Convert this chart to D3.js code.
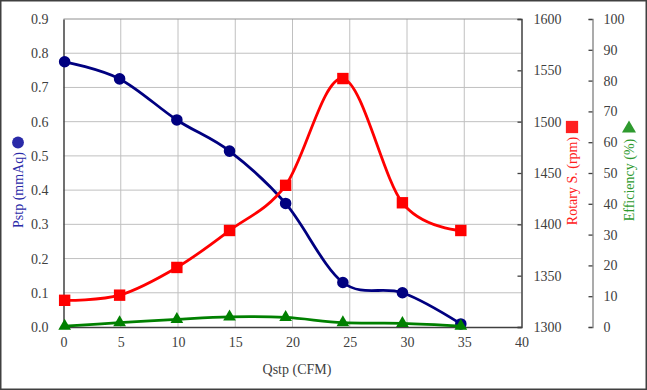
<!DOCTYPE html>
<html><head><meta charset="utf-8">
<script src="https://cdn.jsdelivr.net/npm/d3@7"></script>
<style>body{margin:0;background:#fff}svg{display:block}</style>
</head><body>
<svg id="c" width="647" height="390"></svg>
<script>
const qstp = [0.1, 4.9, 9.9, 14.5, 19.4, 24.4, 29.6, 34.7];
const pstp = [0.775, 0.725, 0.605, 0.514, 0.361, 0.130, 0.100, 0.009];
const rotary = [1326, 1331, 1358, 1394, 1438, 1542, 1421, 1394];
const efficiency = [0.3, 1.4, 2.5, 3.3, 3.1, 1.4, 1.2, 0.3];
const xTicks = [0,5,10,15,20,25,30,35,40];
const pTicks = [0,0.1,0.2,0.3,0.4,0.5,0.6,0.7,0.8,0.9];
const rTicks = [1300,1350,1400,1450,1500,1550,1600];
const eTicks = [0,10,20,30,40,50,60,70,80,90,100];

const svg = d3.select("#c");
const L = 63.5, R = 521.5, T = 19, B = 327;
const font = "'Liberation Serif','Times New Roman',serif";
const x = d3.scaleLinear().domain([0,40]).range([L,R]);
const yP = d3.scaleLinear().domain([0,0.9]).range([B,T]);
const yR = d3.scaleLinear().domain([1300,1600]).range([B,T]);
const yE = d3.scaleLinear().domain([0,100]).range([B,T]);

svg.append("rect").attr("x",0.75).attr("y",0.75).attr("width",645.5).attr("height",388.5)
  .attr("fill","#fff").attr("stroke","#404040").attr("stroke-width",1.5);

// grid
const g = svg.append("g");
g.selectAll(".vg").data(xTicks.slice(1,-1)).join("line")
  .attr("x1",d=>x(d)).attr("x2",d=>x(d)).attr("y1",T).attr("y2",B)
  .attr("stroke","#c0c0c0").attr("stroke-width",1);
g.selectAll(".hg").data(pTicks.slice(1,-1)).join("line")
  .attr("x1",L).attr("x2",R).attr("y1",d=>yP(d)).attr("y2",d=>yP(d))
  .attr("stroke","#c0c0c0").attr("stroke-width",1);
g.append("line").attr("x1",L).attr("x2",R).attr("y1",T).attr("y2",T).attr("stroke","#909090");

// axes
const axL = svg.append("g").attr("transform",`translate(${L},0)`)
  .call(d3.axisLeft(yP).tickValues(pTicks).tickFormat(d3.format(".1f")).tickSize(0).tickPadding(15));
const axB = svg.append("g").attr("transform",`translate(0,${B})`)
  .call(d3.axisBottom(x).tickValues(xTicks).tickFormat(d3.format("d")).tickSize(0).tickPadding(10));
const axR = svg.append("g").attr("transform",`translate(${R},0)`)
  .call(d3.axisRight(yR).tickValues(rTicks).tickFormat(d3.format("d")).tickSize(-4).tickPadding(12));
const axE = svg.append("g").attr("transform",`translate(592.5,0)`)
  .call(d3.axisRight(yE).tickValues(eTicks).tickFormat(d3.format("d")).tickSize(-4).tickPadding(11));
[axL,axB,axR,axE].forEach(a=>{
  a.attr("font-family",null).attr("font-size",null).style("font-family",font).style("font-size","14px");
  a.selectAll("text").style("font-family",font).style("font-size","14px").attr("fill","#404040");
  a.select(".domain").attr("stroke","#404040").attr("stroke-width",1.5);
  a.selectAll(".tick line").attr("stroke","#404040").attr("stroke-width",1.3);
});
axE.select(".domain").attr("stroke","#909090");

const line = (ys, sc) => d3.line().x((d,i)=>x(qstp[i])).y(d=>sc(d)).curve(d3.curveCatmullRom.alpha(0))(ys);
const series = [
  {v:pstp, sc:yP, c:"#000080", sym:d3.symbolCircle, size:105},
  {v:rotary, sc:yR, c:"#ff0000", sym:d3.symbolSquare, size:130},
  {v:efficiency, sc:yE, c:"#008000", sym:d3.symbolTriangle, size:70}
];
series.forEach(s=>{
  svg.append("path").attr("d",line(s.v,s.sc)).attr("fill","none")
    .attr("stroke",s.c).attr("stroke-width",2.8);
  svg.append("g").selectAll("path").data(s.v).join("path")
    .attr("d",d3.symbol(s.sym,s.size))
    .attr("transform",(d,i)=>`translate(${x(qstp[i])},${s.sc(d)})`)
    .attr("fill",s.c);
});

// titles
svg.append("text").attr("x",297).attr("y",374).attr("text-anchor","middle")
  .style("font-family",font).style("font-size","14px").attr("fill","#404040").text("Qstp (CFM)");
function vtitle(cx, cy, txt, col, sym, size, sy){
  svg.append("text").attr("transform",`translate(${cx+5},${cy}) rotate(-90)`).attr("text-anchor","middle")
    .style("font-family",font).style("font-size","14px").attr("fill",col).text(txt);
  svg.append("path").attr("d",d3.symbol(sym,size)).attr("transform",`translate(${cx},${sy})`).attr("fill",col);
}
vtitle(18, 190, "Pstp (mmAq)", "#2a2aa8", d3.symbolCircle, 110, 142.5);
vtitle(572, 181, "Rotary S. (rpm)", "#ff2020", d3.symbolSquare, 150, 127);
vtitle(629, 180, "Efficiency (%)", "#2e9a2e", d3.symbolTriangle, 85, 128.5);
</script>
</body></html>
